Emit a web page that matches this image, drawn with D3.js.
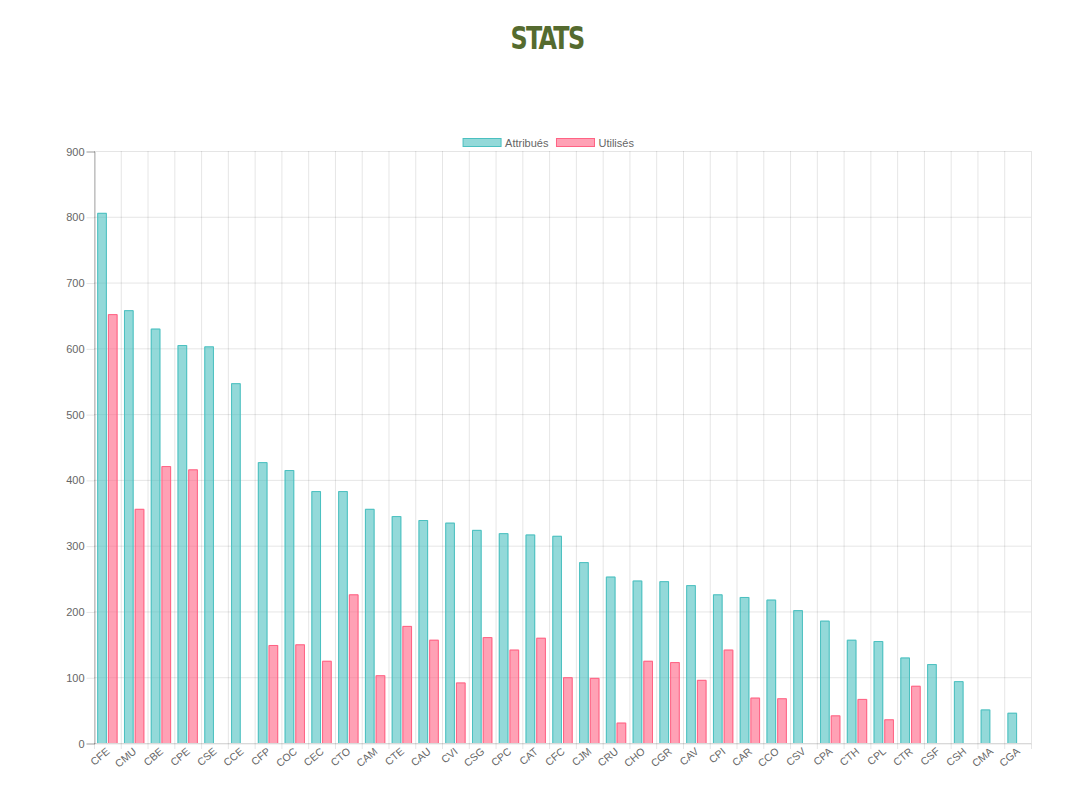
<!DOCTYPE html>
<html>
<head>
<meta charset="utf-8">
<script src="https://cdn.jsdelivr.net/npm/d3@7"></script>
<style>
  body { margin: 0; background: #fff; }
  svg text { font-family: "Liberation Sans", Arial, Helvetica, sans-serif; }
</style>
</head>
<body>
<div id="chart"></div>
<script>
const categories = ["CFE","CMU","CBE","CPE","CSE","CCE","CFP","COC","CEC","CTO","CAM","CTE","CAU","CVI","CSG","CPC","CAT","CFC","CJM","CRU","CHO","CGR","CAV","CPI","CAR","CCO","CSV","CPA","CTH","CPL","CTR","CSF","CSH","CMA","CGA"];
const attribues = [806,658,630,605,603,547,427,415,383,383,356,345,339,335,324,319,317,315,275,253,247,246,240,226,222,218,202,186,157,155,130,120,94,51,46];
const utilises = [652,356,421,416,null,null,149,150,125,226,103,178,157,92,161,142,160,100,99,31,125,123,96,142,69,68,null,42,67,36,87,null,null,null,null];
const seriesNames = ["Attribués", "Utilisés"];
const yTicks = [0,100,200,300,400,500,600,700,800,900];

const W = 1089, H = 793;
const plotLeft = 94, plotRight = 1031, plotTop = 151, plotBottom = 743;

const colors = [
  { fill: "rgba(75,192,192,0.6)", stroke: "rgb(75,192,192)" },
  { fill: "rgba(255,99,132,0.6)", stroke: "rgb(255,99,132)" }
];

const svg = d3.select("#chart").append("svg")
  .attr("width", W)
  .attr("height", H);

// title
svg.append("text")
  .attr("x", 547)
  .attr("y", 49)
  .attr("text-anchor", "middle")
  .style("font-family", "'DejaVu Sans Condensed', 'DejaVu Sans', sans-serif")
  .style("font-weight", "bold")
  .style("font-size", "32px")
  .style("letter-spacing", "-2px")
  .attr("textLength", 73)
  .attr("lengthAdjust", "spacingAndGlyphs")
  .attr("fill", "#556b2f")
  .text("STATS");

const x = d3.scaleBand()
  .domain(categories)
  .range([plotLeft, plotRight]);

const bw = x.bandwidth();

const xs = d3.scaleBand()
  .domain([0, 1])
  .range([bw * 0.1, bw * 0.9])
  .paddingInner(0.1)
  .paddingOuter(0.05);

const y = d3.scaleLinear()
  .domain([0, 900])
  .range([plotBottom, plotTop]);

// grid
const grid = svg.append("g");

grid.selectAll(".hg").data(yTicks).join("line")
  .attr("x1", plotLeft).attr("x2", plotRight)
  .attr("y1", d => y(d) + 0.5).attr("y2", d => y(d) + 0.5)
  .attr("stroke", "rgba(0,0,0,0.1)");

const bounds = categories.map(c => x(c)).concat([plotRight]);
grid.selectAll(".vg").data(bounds).join("line")
  .attr("x1", d => d + 0.5).attr("x2", d => d + 0.5)
  .attr("y1", plotTop).attr("y2", plotBottom + 6)
  .attr("stroke", "rgba(0,0,0,0.1)");

// y axis
const yAxis = svg.append("g")
  .attr("transform", `translate(${plotLeft + 0.5},0.5)`)
  .call(d3.axisLeft(y).tickValues(yTicks).tickSize(8).tickPadding(2));

yAxis.select(".domain").attr("stroke", "rgba(0,0,0,0.3)");
yAxis.selectAll(".tick line").attr("stroke", "rgba(0,0,0,0.1)");
yAxis.selectAll(".tick text")
  .attr("fill", "#666")
  .style("font-size", "11px");

// x axis labels
const xAxis = svg.append("g")
  .attr("transform", `translate(0,${plotBottom + 0.5})`)
  .call(d3.axisBottom(x).tickSize(0).tickPadding(0));

xAxis.select(".domain").attr("stroke", "rgba(0,0,0,0.1)");
xAxis.selectAll(".tick text")
  .attr("fill", "#666")
  .style("font-size", "10.5px")
  .attr("text-anchor", "end")
  .attr("y", 0)
  .attr("dy", 0)
  .attr("transform", "translate(3,9) rotate(-40)");

// bars
[attribues, utilises].forEach((vals, si) => {
  const g = svg.append("g");
  const data = categories.map((c, i) => ({ c, v: vals[i] })).filter(d => d.v != null);
  g.selectAll("rect").data(data).join("rect")
    .attr("x", d => x(d.c) + xs(si))
    .attr("y", d => y(d.v))
    .attr("width", xs.bandwidth())
    .attr("height", d => y(0) - y(d.v))
    .attr("fill", colors[si].fill);
  // border on top and sides (bottom skipped)
  g.selectAll("path").data(data).join("path")
    .attr("d", d => {
      const x0 = x(d.c) + xs(si) + 0.5, x1 = x0 + xs.bandwidth() - 1, yt = y(d.v) + 0.5;
      return `M${x0},${y(0)}V${yt}H${x1}V${y(0)}`;
    })
    .attr("fill", "none")
    .attr("stroke", colors[si].stroke)
    .attr("stroke-width", 1);
});

// legend
const legend = svg.append("g");
const items = legend.selectAll("g").data(seriesNames).join("g");
items.append("rect")
  .attr("width", 38).attr("height", 8)
  .attr("fill", (d, i) => colors[i].fill)
  .attr("stroke", (d, i) => colors[i].stroke);
items.append("text")
  .attr("x", 42).attr("y", 8)
  .attr("fill", "#666")
  .style("font-size", "11px")
  .text(d => d);

let widths = [];
items.each(function () { widths.push(42 + d3.select(this).select("text").node().getComputedTextLength()); });
const gap = 8;
const total = d3.sum(widths) + gap * (widths.length - 1);
let cx = 548 - total / 2;
items.attr("transform", (d, i) => {
  const t = `translate(${cx + 0.5},138.5)`;
  cx += widths[i] + gap;
  return t;
});
</script>
</body>
</html>
